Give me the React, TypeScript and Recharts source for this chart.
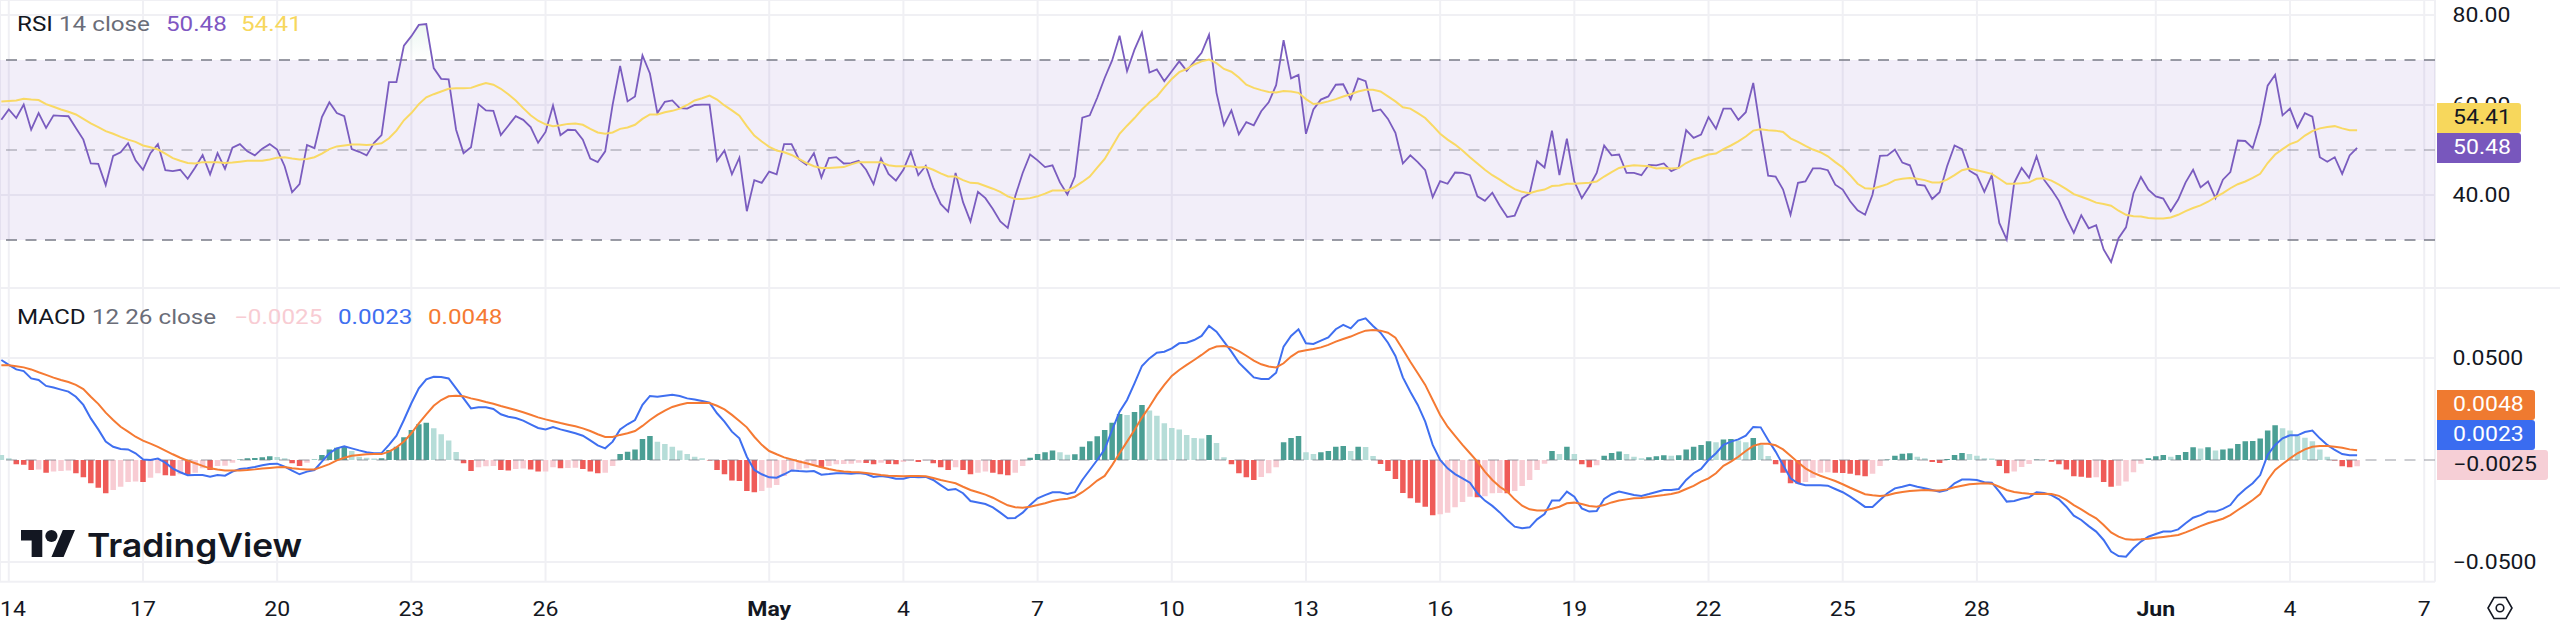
import React from 'react';
import { ComposedChart, Line, Bar, Area, Cell, XAxis, YAxis, CartesianGrid, ReferenceLine, ReferenceArea } from 'recharts';

const rsiValues = [
  56.7,59.0,57.1,60.1,54.5,58.2,54.9,57.7,57.6,57.5,
  54.9,52.3,47.0,46.9,42.2,48.7,49.5,51.5,47.7,45.6,
  49.3,51.3,45.5,45.3,45.6,43.6,46.1,48.9,44.6,49.3,
  45.8,50.5,51.3,49.7,48.8,50.3,51.3,50.1,46.4,40.6,
  42.4,51.1,50.4,57.3,60.6,58.2,57.5,50.2,49.6,48.8,
  51.6,53.3,65.1,65.1,73.2,75.3,77.8,78.0,68.2,65.8,
  65.7,54.5,49.3,50.6,60.2,58.8,58.7,53.3,55.4,57.5,
  56.7,55.1,51.6,54.0,59.9,53.3,54.5,54.4,52.3,48.1,
  47.3,49.7,60.1,68.7,60.8,61.9,71.0,67.0,58.2,60.7,
  61.0,59.3,59.2,60.0,60.1,60.1,47.6,49.9,44.6,48.3,
  36.4,43.3,42.7,45.2,44.6,51.3,51.3,47.9,46.7,49.3,
  43.9,48.2,48.4,47.0,47.1,47.6,45.6,42.4,48.1,44.7,
  43.2,45.6,49.6,44.4,46.5,41.7,38.0,36.3,44.9,38.4,
  34.1,40.7,39.3,36.9,34.1,32.7,39.7,44.9,49.0,47.7,
  46.2,46.6,42.8,40.1,44.1,57.2,57.7,61.6,66.0,69.9,
  75.4,67.5,72.3,76.1,67.2,67.9,65.3,67.5,69.7,67.6,
  69.6,71.6,75.6,62.7,55.5,58.8,53.5,56.2,55.5,58.6,
  60.6,64.4,74.4,65.9,66.7,53.6,59.0,61.2,61.9,64.5,
  64.6,61.3,65.9,65.3,58.6,59.0,56.9,53.8,47.0,48.8,
  47.3,45.5,39.5,43.1,42.5,45.0,44.9,44.4,39.7,38.7,
  40.5,37.6,35.1,35.4,39.3,40.3,47.5,46.1,54.3,44.4,
  52.5,43.0,39.3,41.9,44.9,51.0,48.8,49.0,44.9,44.9,
  44.4,46.7,46.6,47.0,45.3,46.1,54.4,52.7,53.4,57.3,
  54.7,59.2,59.2,56.7,58.4,64.9,54.1,44.3,44.1,41.2,
  35.6,42.7,43.0,45.9,45.9,45.5,42.3,41.2,38.6,36.6,
  35.6,40.1,48.7,48.8,50.1,47.2,46.6,42.3,42.1,39.1,
  40.6,46.4,51.0,50.2,45.4,44.4,40.7,44.4,33.8,30.1,
  42.7,46.0,43.8,48.6,43.4,41.2,38.7,34.9,31.6,35.5,
  32.6,33.3,27.9,25.1,30.4,32.8,40.4,44.0,41.2,39.7,
  39.2,36.4,39.0,42.8,45.6,41.7,43.0,39.3,43.4,45.1,
  52.1,52.0,50.4,55.9,64.3,66.7,57.7,59.2,55.0,58.2,
  57.4,48.4,47.4,48.4,44.7,48.8,50.48,
];

const rsiMaValues = [
  60.8,60.9,61.0,61.4,61.2,61.1,60.2,59.6,59.0,58.5,
  57.9,56.9,55.9,55.1,54.2,53.6,52.9,52.3,51.8,51.0,
  50.6,50.1,49.2,48.2,47.6,47.1,47.0,47.3,47.3,47.3,
  47.1,47.2,47.4,47.6,47.6,47.6,47.9,48.3,48.4,48.1,
  47.9,48.0,48.4,49.2,50.2,50.8,51.0,51.2,51.2,51.1,
  51.2,51.5,52.6,54.3,56.6,58.2,60.2,61.7,62.4,63.0,
  63.6,63.7,63.7,63.8,64.4,64.9,64.5,63.6,62.4,61.0,
  59.3,57.7,56.5,55.7,55.3,55.5,55.8,55.9,55.6,54.7,
  53.9,53.6,53.9,54.7,55.0,55.6,56.9,57.9,57.9,58.4,
  58.7,59.2,60.0,61.0,61.5,62.1,61.2,59.9,58.8,57.6,
  55.3,53.2,51.9,50.7,49.9,49.5,48.9,48.0,47.1,46.4,
  46.0,46.0,46.1,46.2,46.8,47.3,47.3,47.3,47.3,46.6,
  46.4,46.4,46.4,46.1,46.2,45.6,44.8,44.1,44.1,43.3,
  42.7,42.6,42.0,41.4,40.7,39.7,39.1,39.1,39.3,39.7,
  40.3,41.0,41.0,41.0,41.8,42.9,44.1,46.1,48.0,50.8,
  53.6,55.4,57.1,59.0,60.6,61.9,63.9,65.8,67.3,68.0,
  69.0,69.7,70.1,69.3,68.0,67.4,66.1,64.5,63.8,63.3,
  62.9,62.8,63.1,63.0,62.7,61.3,60.2,60.4,60.8,61.3,
  61.9,62.4,63.0,63.4,63.4,63.0,61.9,60.8,59.5,59.2,
  58.2,57.1,55.4,53.6,52.3,51.2,49.9,48.4,47.0,45.6,
  44.4,43.4,42.3,41.3,40.7,40.4,40.9,41.2,42.0,42.1,
  42.5,42.5,42.6,42.7,43.0,44.1,45.1,46.0,46.4,46.6,
  46.5,46.4,45.9,46.0,45.9,46.0,47.1,47.9,48.4,49.0,
  49.2,50.2,51.0,51.9,53.0,54.3,54.6,54.4,54.3,54.0,
  52.6,51.8,50.9,50.1,49.5,48.6,47.3,46.1,44.4,42.5,
  41.5,41.4,41.9,42.4,43.3,43.6,43.8,43.6,43.3,42.8,
  42.8,43.4,44.4,45.5,45.9,45.5,45.1,44.7,43.6,42.5,
  42.5,42.6,42.8,43.6,43.7,43.2,42.3,41.3,40.2,39.6,
  39.0,38.3,38.0,37.6,36.5,35.6,35.3,35.2,34.9,34.8,
  34.8,35.0,35.6,36.4,37.1,37.7,38.5,39.5,40.4,41.5,
  42.4,43.0,43.8,44.7,47.1,49.0,50.2,51.3,51.9,53.2,
  54.2,54.8,55.1,55.3,54.8,54.4,54.41,
];

const macdValues = [
  .0490,.0466,.0444,.0436,.0400,.0392,.0363,.0355,.0345,.0335,
  .0310,.0270,.0204,.0150,.0090,.0065,.0054,.0052,.0033,.0003,
  0,.0007,-.0013,-.0042,-.0060,-.0075,-.0074,-.0074,-.0082,-.0074,
  -.0077,-.0057,-.0044,-.0041,-.0034,-.0026,-.0020,-.0018,-.0033,-.0052,
  -.0070,-.0057,-.0049,-.0008,.0033,.0057,.0067,.0057,.0047,.0038,
  .0033,.0034,.0074,.0119,.0196,.0278,.0351,.0395,.0408,.0407,
  .0400,.0351,.0302,.0253,.0258,.0258,.0250,.0224,.0212,.0206,
  .0193,.0175,.0157,.0150,.0162,.0150,.0141,.0131,.0119,.0096,
  .0072,.0057,.0090,.0150,.0175,.0196,.0270,.0314,.0310,.0315,
  .0320,.0314,.0302,.0296,.0289,.0281,.0229,.0188,.0139,.0106,
  .0016,-.0049,-.0070,-.0085,-.0087,-.0070,-.0051,-.0054,-.0056,-.0054,
  -.0072,-.0069,-.0065,-.0065,-.0067,-.0064,-.0069,-.0083,-.0078,-.0083,
  -.0092,-.0092,-.0082,-.0085,-.0083,-.0098,-.0123,-.0147,-.0142,-.0163,
  -.0201,-.0208,-.0216,-.0232,-.0258,-.0286,-.0284,-.0258,-.0221,-.0188,
  -.0172,-.0158,-.0158,-.0167,-.0158,-.0098,-.0049,0,.0052,.0147,
  .0237,.0294,.0376,.0461,.0498,.0526,.0531,.0547,.0572,.0575,
  .0588,.0608,.0657,.0629,.0580,.0531,.0477,.0441,.0405,.0397,
  .0397,.0428,.0556,.0608,.0641,.0572,.0569,.0585,.0601,.0641,
  .0662,.0645,.0683,.0694,.0657,.0624,.0575,.0510,.0405,.0335,
  .0270,.0188,.0074,0,-.0041,-.0069,-.0090,-.0111,-.0163,-.0199,
  -.0225,-.0257,-.0294,-.0327,-.0335,-.0330,-.0291,-.0265,-.0199,-.0199,
  -.0155,-.0180,-.0237,-.0253,-.0250,-.0191,-.0168,-.0155,-.0163,-.0172,
  -.0176,-.0167,-.0157,-.0147,-.0147,-.0142,-.0098,-.0065,-.0044,0,
  .0033,.0074,.0090,.0101,.0119,.0162,.0160,.0098,.0041,-.0025,
  -.0090,-.0114,-.0124,-.0124,-.0124,-.0126,-.0142,-.0158,-.0180,-.0204,
  -.0230,-.0230,-.0196,-.0163,-.0139,-.0131,-.0121,-.0131,-.0139,-.0147,
  -.0155,-.0147,-.0114,-.0096,-.0096,-.0098,-.0109,-.0111,-.0155,-.0204,
  -.0201,-.0190,-.0183,-.0158,-.0162,-.0172,-.0193,-.0229,-.0273,-.0294,
  -.0324,-.0351,-.0392,-.0449,-.0471,-.0474,-.0433,-.0400,-.0376,-.0363,
  -.0351,-.0351,-.0340,-.0310,-.0283,-.0270,-.0253,-.0253,-.0240,-.0221,
  -.0175,-.0142,-.0114,-.0074,.0025,.0074,.0106,.0121,.0121,.0137,
  .0144,.0106,.0074,.0049,.0029,.0023,.0023,
];

const signalValues = [
  .0464,.0464,.0459,.0454,.0444,.0430,.0417,.0404,.0392,.0382,
  .0368,.0348,.0310,.0275,.0232,.0196,.0163,.0139,.0114,.0095,
  .0080,.0064,.0046,.0028,.0011,-.0003,-.0016,-.0029,-.0041,-.0047,
  -.0052,-.0052,-.0051,-.0049,-.0046,-.0042,-.0039,-.0036,-.0034,-.0041,
  -.0044,-.0046,-.0046,-.0034,-.0020,-.0002,.0011,.0021,.0025,.0028,
  .0029,.0029,.0041,.0062,.0090,.0131,.0180,.0224,.0266,.0294,
  .0312,.0315,.0312,.0302,.0294,.0284,.0276,.0265,.0255,.0245,
  .0234,.0222,.0209,.0199,.0190,.0181,.0173,.0165,.0155,.0142,
  .0126,.0113,.0113,.0123,.0131,.0142,.0167,.0196,.0221,.0242,
  .0260,.0271,.0279,.0279,.0281,.0279,.0266,.0248,.0221,.0191,
  .0160,.0114,.0074,.0044,.0028,.0013,.0003,-.0007,-.0016,-.0026,
  -.0036,-.0044,-.0051,-.0056,-.0059,-.0060,-.0064,-.0069,-.0074,-.0077,
  -.0078,-.0080,-.0078,-.0078,-.0080,-.0088,-.0098,-.0106,-.0114,-.0131,
  -.0147,-.0158,-.0170,-.0185,-.0204,-.0222,-.0232,-.0234,-.0229,-.0221,
  -.0212,-.0201,-.0194,-.0190,-.0180,-.0158,-.0131,-.0101,-.0078,-.0025,
  .0033,.0090,.0147,.0208,.0261,.0319,.0368,.0412,.0441,.0466,
  .0490,.0515,.0542,.0556,.0559,.0552,.0534,.0511,.0487,.0469,
  .0458,.0454,.0474,.0507,.0531,.0538,.0544,.0552,.0564,.0580,
  .0593,.0605,.0621,.0634,.0637,.0634,.0624,.0600,.0542,.0482,
  .0425,.0368,.0294,.0221,.0163,.0118,.0074,.0033,-.0008,-.0057,
  -.0098,-.0131,-.0155,-.0193,-.0224,-.0242,-.0248,-.0248,-.0239,-.0229,
  -.0212,-.0209,-.0216,-.0225,-.0229,-.0221,-.0208,-.0199,-.0193,-.0188,
  -.0186,-.0181,-.0176,-.0172,-.0167,-.0158,-.0142,-.0127,-.0106,-.0090,
  -.0065,-.0029,-.0008,.0016,.0044,.0069,.0080,.0080,.0072,.0052,
  .0021,-.0011,-.0041,-.0062,-.0077,-.0090,-.0103,-.0119,-.0136,-.0152,
  -.0168,-.0173,-.0176,-.0173,-.0163,-.0157,-.0152,-.0149,-.0147,-.0149,
  -.0150,-.0144,-.0134,-.0126,-.0119,-.0116,-.0114,-.0116,-.0131,-.0147,
  -.0157,-.0162,-.0165,-.0167,-.0165,-.0167,-.0176,-.0196,-.0221,-.0242,
  -.0265,-.0286,-.0319,-.0355,-.0376,-.0389,-.0391,-.0389,-.0386,-.0381,
  -.0377,-.0373,-.0368,-.0355,-.0340,-.0324,-.0310,-.0299,-.0288,-.0270,
  -.0245,-.0221,-.0196,-.0167,-.0098,-.0049,-.0020,.0008,.0033,.0052,
  .0065,.0069,.0069,.0065,.0060,.0052,.0048,
];

const histValues = [
  .0025,.0008,-.0021,-.0023,-.0049,-.0047,-.0062,-.0057,-.0054,-.0052,
  -.0065,-.0085,-.0114,-.0136,-.0163,-.0147,-.0131,-.0108,-.0106,-.0108,
  -.0087,-.0065,-.0075,-.0077,-.0070,-.0072,-.0062,-.0041,-.0049,-.0029,
  -.0028,-.0013,.0003,.0008,.0010,.0013,.0018,.0015,.0008,-.0016,
  -.0029,-.0013,.0003,.0025,.0052,.0060,.0069,.0044,.0016,.0011,
  .0007,.0008,.0049,.0065,.0111,.0147,.0175,.0183,.0155,.0126,
  .0095,.0039,-.0016,-.0054,-.0036,-.0031,-.0029,-.0049,-.0051,-.0044,
  -.0042,-.0046,-.0057,-.0056,-.0036,-.0041,-.0039,-.0038,-.0044,-.0057,
  -.0065,-.0062,-.0029,.0029,.0041,.0052,.0103,.0118,.0090,.0078,
  .0065,.0046,.0029,.0016,.0008,-.0003,-.0049,-.0070,-.0101,-.0103,
  -.0152,-.0158,-.0152,-.0136,-.0123,-.0078,-.0049,-.0046,-.0041,-.0025,
  -.0036,-.0029,-.0021,-.0020,-.0018,-.0013,-.0015,-.0021,-.0013,-.0020,
  -.0021,-.0010,-.0002,-.0010,-.0002,-.0016,-.0036,-.0049,-.0036,-.0049,
  -.0070,-.0062,-.0057,-.0062,-.0070,-.0075,-.0062,-.0029,.0011,.0029,
  .0038,.0047,.0038,.0026,.0028,.0065,.0092,.0116,.0147,.0183,
  .0225,.0221,.0235,.0270,.0242,.0217,.0180,.0157,.0149,.0123,
  .0108,.0105,.0123,.0083,.0013,-.0021,-.0065,-.0085,-.0098,-.0083,
  -.0065,-.0036,.0087,.0108,.0118,.0038,.0029,.0038,.0044,.0065,
  .0069,.0044,.0065,.0064,.0020,-.0020,-.0054,-.0093,-.0162,-.0188,
  -.0209,-.0229,-.0271,-.0266,-.0258,-.0232,-.0206,-.0180,-.0183,-.0178,
  -.0163,-.0162,-.0163,-.0152,-.0127,-.0098,-.0049,-.0018,.0044,.0029,
  .0065,.0029,-.0021,-.0036,-.0026,.0021,.0034,.0042,.0029,.0016,
  .0008,.0013,.0018,.0023,.0021,.0023,.0052,.0065,.0074,.0092,
  .0087,.0100,.0103,.0095,.0087,.0108,.0074,.0020,-.0021,-.0062,
  -.0114,-.0116,-.0108,-.0087,-.0062,-.0060,-.0062,-.0064,-.0067,-.0075,
  -.0080,-.0067,-.0029,.0002,.0021,.0031,.0033,.0016,.0008,-.0010,
  -.0015,.0005,.0025,.0034,.0029,.0021,.0008,.0007,-.0029,-.0065,
  -.0056,-.0034,-.0020,.0003,.0002,-.0008,-.0021,-.0047,-.0080,-.0082,
  -.0087,-.0085,-.0108,-.0131,-.0126,-.0106,-.0060,-.0018,.0008,.0018,
  .0025,.0016,.0025,.0039,.0062,.0056,.0062,.0047,.0052,.0056,
  .0078,.0092,.0093,.0105,.0144,.0170,.0155,.0144,.0118,.0109,
  .0092,.0052,.0016,-.0003,-.0031,-.0036,-.0031,
];

const dayTickIndex = [1, 19, 37, 55, 73, 103, 121, 139, 157, 175, 193, 211, 229, 247, 265, 289, 307, 325];
const dayTickLabels = ['14', '17', '20', '23', '26', 'May', '4', '7', '10', '13', '16', '19', '22', '25', '28', 'Jun', '4', '7'];
const monthLabels = ['May', 'Jun'];
const rsiTicks = [40, 60, 80];
const macdTicks = [-0.05, 0.05];
const macdTickLabels = ['\u22120.0500', '0.0500'];

const rows = rsiValues.map((rsi, i) => ({
  i,
  rsi,
  ma: rsiMaValues[i],
  macd: macdValues[i],
  signal: signalValues[i],
  hist: histValues[i],
}));

const FONT = 'Roboto, sans-serif';
const STRETCH = 1.17;
const LEGEND_STRETCH = 1.23;
const FS = 19.7;
const INK = '#131722';
const GRID = '#f0f0f4';
const X_DOMAIN: [number, number] = [-0.18, 326.45];
const W = 2560;
const PLOT_RIGHT = 125;
const AXIS_X = 2452.5;
const FIRST_TICK_MIN_X = 13;

function histColor(i: number) {
  const v = histValues[i];
  const prev = i === 0 ? Infinity : histValues[i - 1];
  if (v >= 0) return v > prev ? '#4b9f94' : '#b6ddd8';
  return v < prev ? '#ef5b58' : '#f8ccd3';
}

function stretched(x: number, y: number) {
  return `translate(${x},${y}) scale(${STRETCH},1)`;
}

function RsiTick({ y, payload }: any) {
  return (
    <text transform={stretched(AXIS_X, y + 7)} fontFamily={FONT} fontSize={FS} fill={INK}>
      {Number(payload.value).toFixed(2)}
    </text>
  );
}

function MacdTick({ y, payload }: any) {
  const label = macdTickLabels[macdTicks.indexOf(payload.value)];
  return (
    <text transform={stretched(AXIS_X, y + 7)} fontFamily={FONT} fontSize={FS} fill={INK}>
      {label}
    </text>
  );
}

function DayTick({ x, payload }: any) {
  const label = dayTickLabels[dayTickIndex.indexOf(payload.value)];
  const bold = monthLabels.includes(label);
  return (
    <text transform={stretched(Math.max(x, FIRST_TICK_MIN_X), 328)} textAnchor="middle" fontFamily={FONT} fontSize={FS} fontWeight={bold ? 700 : 400} fill={INK}>
      {label}
    </text>
  );
}

function Legend({ top, parts }: { top: number; parts: [string, string, number][] }) {
  return (
    <>
      {parts.map(([text, color, left]) => (
        <div key={text + left} style={{ position: 'absolute', left, top, lineHeight: '24px', fontFamily: FONT, fontSize: FS, color, whiteSpace: 'pre', transform: `scaleX(${LEGEND_STRETCH})`, transformOrigin: 'left center' }}>
          {text}
        </div>
      ))}
    </>
  );
}

function Tag({ top, width, bg, color, text }: { top: number; width: number; bg: string; color: string; text: string }) {
  return (
    <div style={{ position: 'absolute', left: 2437, top, width, height: 30, background: bg, borderRadius: '0 3px 3px 0' }}>
      <div style={{ position: 'absolute', left: 15.5, top: 3, lineHeight: '24px', fontFamily: FONT, fontSize: FS, color, whiteSpace: 'pre', transform: `scaleX(${STRETCH})`, transformOrigin: 'left center' }}>
        {text}
      </div>
    </div>
  );
}

export default function App() {
  return (
    <div style={{ position: 'absolute', left: 0, top: 0, width: W, height: 632, background: '#fff', overflow: 'hidden' }}>
      <div style={{ position: 'absolute', left: 0, top: 0 }}>
        <ComposedChart width={W} height={288} data={rows} margin={{ top: 0, right: 0, bottom: 0, left: 0 }}>
          <defs>
            <linearGradient id="obFill" gradientUnits="userSpaceOnUse" x1="0" y1="15" x2="0" y2="60">
              <stop offset="0" stopColor="#4caf7d" stopOpacity={0.22} />
              <stop offset="1" stopColor="#4caf7d" stopOpacity={0} />
            </linearGradient>
            <linearGradient id="osFill" gradientUnits="userSpaceOnUse" x1="0" y1="240" x2="0" y2="265">
              <stop offset="0" stopColor="#ef5350" stopOpacity={0} />
              <stop offset="1" stopColor="#ef5350" stopOpacity={0.1} />
            </linearGradient>
          </defs>
          <CartesianGrid stroke={GRID} strokeWidth={2} />
          <XAxis dataKey="i" type="number" domain={X_DOMAIN} ticks={dayTickIndex} interval={0} allowDataOverflow hide />
          <YAxis orientation="right" width={PLOT_RIGHT} domain={[19.33, 83.33]} ticks={rsiTicks} interval={0} allowDataOverflow axisLine={false} tickLine={false} tick={<RsiTick />} />
          <ReferenceArea y1={30} y2={70} fill="#7e57c2" fillOpacity={0.1} stroke="none" />
          <ReferenceLine y={70} stroke="#787b86" strokeWidth={1.5} strokeDasharray="11 8.5" />
          <ReferenceLine y={50} stroke="#787b86" strokeOpacity={0.5} strokeWidth={1.5} strokeDasharray="11 8.5" />
          <ReferenceLine y={30} stroke="#787b86" strokeWidth={1.5} strokeDasharray="11 8.5" />
          <Area dataKey="rsi" baseValue={70} fill="url(#obFill)" stroke="none" dot={false} activeDot={false} isAnimationActive={false} />
          <Area dataKey="rsi" baseValue={30} fill="url(#osFill)" stroke="none" dot={false} activeDot={false} isAnimationActive={false} />
          <Line dataKey="rsi" stroke="#7a5cbf" strokeWidth={1.8} dot={false} activeDot={false} isAnimationActive={false} />
          <Line dataKey="ma" stroke="#f9d964" strokeWidth={2} dot={false} activeDot={false} isAnimationActive={false} />
        </ComposedChart>
      </div>
      <div style={{ position: 'absolute', left: 0, top: 288 }}>
        <ComposedChart width={W} height={344} data={rows} margin={{ top: 0, right: 0, bottom: 0, left: 0 }}>
          <CartesianGrid stroke={GRID} strokeWidth={2} />
          <XAxis dataKey="i" type="number" domain={X_DOMAIN} ticks={dayTickIndex} interval={0} allowDataOverflow height={50.3} axisLine={false} tickLine={false} tick={<DayTick />} />
          <YAxis orientation="right" width={PLOT_RIGHT} domain={[-0.05966, 0.08431]} ticks={macdTicks} interval={0} allowDataOverflow axisLine={false} tickLine={false} tick={<MacdTick />} />
          <Bar dataKey="hist" barSize={5.5} isAnimationActive={false}>
            {rows.map((r) => (
              <Cell key={r.i} fill={histColor(r.i)} />
            ))}
          </Bar>
          <ReferenceLine y={0} stroke="#787b86" strokeOpacity={0.5} strokeWidth={1.5} strokeDasharray="11 8.5" />
          <Line dataKey="macd" stroke="#3f6ff0" strokeWidth={2} dot={false} activeDot={false} isAnimationActive={false} />
          <Line dataKey="signal" stroke="#f57a33" strokeWidth={2} dot={false} activeDot={false} isAnimationActive={false} />
        </ComposedChart>
      </div>
      <div style={{ position: 'absolute', left: 0, top: 287, width: W, height: 2, background: GRID }} />

      <Legend top={13} parts={[['RSI', INK, 16.5], ['14 close', '#6a6d78', 59], ['50.48', '#7e57c2', 166], ['54.41', '#f7d75c', 241]]} />
      <Legend top={306} parts={[['MACD', INK, 16.5], ['12 26 close', '#6a6d78', 92], ['\u22120.0025', '#f8ccd3', 234], ['0.0023', '#3f6ff0', 338], ['0.0048', '#f57a33', 428]]} />

      <Tag top={103} width={84} bg="#f7d75c" color={INK} text="54.41" />
      <Tag top={133} width={84} bg="#7857bd" color="#fff" text="50.48" />
      <Tag top={390} width={98} bg="#ef7a30" color="#fff" text="0.0048" />
      <Tag top={420} width={98} bg="#3a6cf0" color="#fff" text="0.0023" />
      <Tag top={450} width={111} bg="#f6cfd6" color={INK} text={'\u22120.0025'} />

      <svg style={{ position: 'absolute', left: 21, top: 530 }} width={54} height={27} viewBox="0 4 35.5 18" preserveAspectRatio="none">
        <path d="M14 22H7V11H0V4h14v18zM28 22h-8l7.5-18h8L28 22z" fill={INK} />
        <circle cx={20} cy={8} r={4} fill={INK} />
      </svg>
      <div style={{ position: 'absolute', left: 87, top: 525, lineHeight: '40px', fontFamily: 'Inter, sans-serif', fontWeight: 600, fontSize: 33, color: INK, whiteSpace: 'pre', transform: 'scaleX(1.07)', transformOrigin: 'left center' }}>
        TradingView
      </div>

      <svg style={{ position: 'absolute', left: 2487, top: 596 }} width={26} height={24} viewBox="0 0 26 24">
        <path d="M7 1.5h12L25 12l-6 10.5H7L1 12z" fill="none" stroke={INK} strokeWidth={1.6} />
        <circle cx={13} cy={12} r={3.8} fill="none" stroke={INK} strokeWidth={1.6} />
      </svg>
    </div>
  );
}
